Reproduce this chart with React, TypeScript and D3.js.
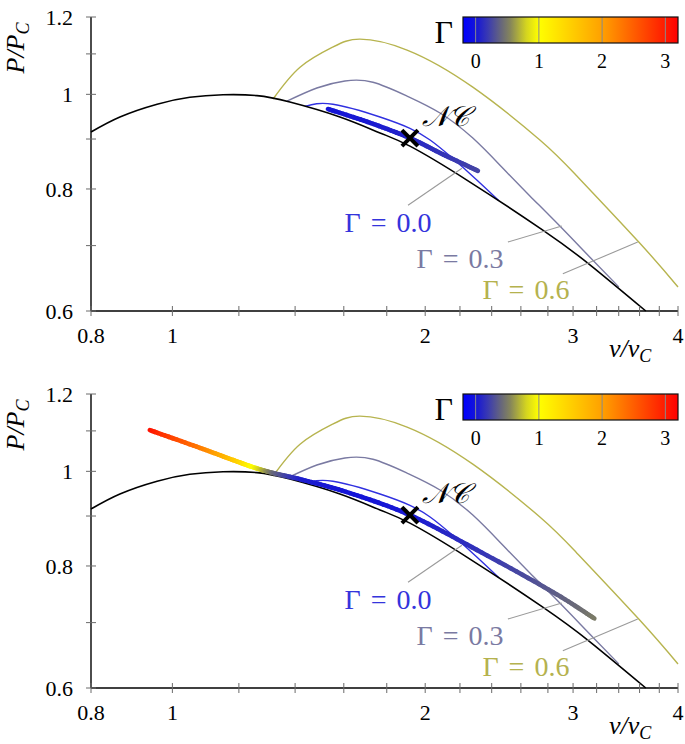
import React from 'react';
import * as d3 from 'd3';

const W = 685;
const H = 744;

// ---------- data ----------
const xTickValues = [0.8, 1, 1.2, 1.4, 1.6, 1.8, 2, 2.2, 2.4, 2.6, 2.8, 3, 3.2, 3.4, 3.6, 3.8, 4];
const xTickLabels = ['0.8', '1', '2', '3', '4'];
const yTickValues = [0.6, 0.7, 0.8, 0.9, 1.0, 1.1, 1.2];
const yTickLabels = ['0.6', '0.8', '1', '1.2'];
const cbarTicks = [0, 1, 2, 3];

// black boundary curve
const boundaryV = [0.8, 0.866, 0.959, 1.049, 1.149, 1.261, 1.38, 1.583, 1.767, 1.918, 2.242, 2.761, 3.142, 3.662];
const boundaryP = [0.915, 0.948, 0.977, 0.993, 0.999, 0.997, 0.982, 0.948, 0.913, 0.885, 0.817, 0.726, 0.669, 0.6];

// Gamma = 0.0 thin curve
const g00V = [1.438, 1.553, 1.767, 1.918, 2.027, 2.153, 2.304, 2.448];
const g00P = [0.972, 0.977, 0.948, 0.923, 0.898, 0.861, 0.817, 0.778];

// Gamma = 0.3 curve
const g03V = [1.369, 1.486, 1.605, 1.733, 1.903, 2.083, 2.279, 2.475, 2.665, 2.893, 3.142, 3.401];
const g03P = [0.984, 1.015, 1.032, 1.029, 0.996, 0.957, 0.902, 0.84, 0.787, 0.733, 0.681, 0.635];

// Gamma = 0.6 curve
const g06V = [1.318, 1.419, 1.553, 1.672, 1.903, 2.279, 2.739, 3.023, 3.592, 4.0];
const g06P = [0.989, 1.066, 1.118, 1.139, 1.11, 1.017, 0.898, 0.827, 0.706, 0.635];

// thick trajectory, top panel
const thick1V = [1.532, 1.72, 1.918, 2.1, 2.311];
const thick1P = [0.966, 0.935, 0.902, 0.868, 0.835];
const thick1G = [0.0, 0.03, 0.08, 0.16, 0.25];

// thick trajectory, bottom panel
const thick2V = [0.94, 1.078, 1.181, 1.247, 1.318, 1.43, 1.627, 1.918, 2.304, 2.84, 3.18];
const thick2P = [1.102, 1.057, 1.027, 1.01, 0.996, 0.98, 0.95, 0.902, 0.831, 0.752, 0.707];
const thick2G = [3.1, 2.3, 1.6, 1.0, 0.42, 0.05, 0.0, 0.02, 0.15, 0.35, 0.5];

// NC point
const ncV = 1.918;
const ncP = 0.902;

// annotations: label, pin start (v,P), pin end (v,P), label centre (v,P)
const annLabels = ['Γ = 0.0', 'Γ = 0.3', 'Γ = 0.6'];
const annColors = ['#3434dc', '#7a7aa2', '#b5b24e'];
const annStartV = [1.908, 2.509, 2.917];
const annStartP = [0.77, 0.706, 0.655];
const annEndV = [2.212, 2.909, 3.582];
const annEndP = [0.84, 0.733, 0.706];
const annLabelV = [1.806, 2.2, 2.636];
const annLabelP = [0.74, 0.68, 0.632];

// colormap
const cmapDomain = [-0.2, 0, 0.2, 0.4, 0.55, 0.8, 1, 2, 3.2];
const cmapColors = ['#0000ff', '#1414d8', '#3b3bb0', '#66667c', '#86865a', '#d4d420', '#ffff00', '#ffa000', '#ff0000'];

// ---------- helpers ----------
const FONT = "'Liberation Serif', 'DejaVu Serif', serif";
const xS = d3.scaleLog().domain([0.8, 4]).range([91, 678]);
const cmap = d3.scaleLinear<string>().domain(cmapDomain).range(cmapColors).interpolate(d3.interpolateRgb).clamp(true);

type Pt = { x: number; y: number; g: number };

function gradientSegments(pts: Pt[], steps = 14) {
  const segs: { x1: number; y1: number; x2: number; y2: number; c: string }[] = [];
  for (let i = 0; i < pts.length - 1; i++) {
    const p0 = pts[Math.max(i - 1, 0)];
    const p1 = pts[i];
    const p2 = pts[i + 1];
    const p3 = pts[Math.min(i + 2, pts.length - 1)];
    let px = p1.x;
    let py = p1.y;
    for (let s = 1; s <= steps; s++) {
      const t = s / steps;
      const t2 = t * t;
      const t3 = t2 * t;
      const cr = (a: number, b: number, c: number, d: number) =>
        0.5 * (2 * b + (-a + c) * t + (2 * a - 5 * b + 4 * c - d) * t2 + (-a + 3 * b - 3 * c + d) * t3);
      const x = cr(p0.x, p1.x, p2.x, p3.x);
      const y = cr(p0.y, p1.y, p2.y, p3.y);
      const tm = (s - 0.5) / steps;
      const g = p1.g + (p2.g - p1.g) * tm;
      segs.push({ x1: px, y1: py, x2: x, y2: y, c: cmap(g) });
      px = x;
      py = y;
    }
  }
  return segs;
}

function Panel({ top, thickV, thickP, thickG, gid }: { top: number; thickV: number[]; thickP: number[]; thickG: number[]; gid: string }) {
  const yS = d3.scaleLog().domain([0.6, 1.2]).range([top + 294, top]);
  const line = d3
    .line<[number, number]>()
    .x((d) => xS(d[0]))
    .y((d) => yS(d[1]))
    .curve(d3.curveNatural);
  const zip = (a: number[], b: number[]) => a.map((v, i) => [v, b[i]] as [number, number]);
  const axisY = yS(0.6);
  const thickPts: Pt[] = thickV.map((v, i) => ({ x: xS(v), y: yS(thickP[i]), g: thickG[i] }));
  const segs = gradientSegments(thickPts);

  const cb = d3.scaleLinear().domain([-0.2, 3.2]).range([463, 678]);
  const cbTop = top;
  const cbH = 26;

  const ncx = xS(ncV);
  const ncy = yS(ncP);

  return (
    <g>
      {/* curves */}
      <path d={line(zip(g06V, g06P)) || ''} fill="none" stroke="#b7b44f" strokeWidth={1.4} />
      <path d={line(zip(g03V, g03P)) || ''} fill="none" stroke="#7a7aa2" strokeWidth={1.4} />
      <path d={line(zip(g00V, g00P)) || ''} fill="none" stroke="#3030e0" strokeWidth={1.4} />
      <path d={line(zip(boundaryV, boundaryP)) || ''} fill="none" stroke="#000" strokeWidth={1.6} />

      {/* pins */}
      {annLabels.map((lab, i) => (
        <g key={lab}>
          <line
            x1={xS(annStartV[i])}
            y1={yS(annStartP[i])}
            x2={xS(annEndV[i])}
            y2={yS(annEndP[i])}
            stroke="#9a9a9a"
            strokeWidth={1.1}
          />
          <text
            x={xS(annLabelV[i])}
            y={yS(annLabelP[i])}
            dy="0.36em"
            textAnchor="middle"
            fontFamily={FONT}
            fontSize={28}
            wordSpacing={3}
            fill={annColors[i]}
          >
            {lab}
          </text>
        </g>
      ))}

      {/* thick coloured trajectory */}
      {segs.map((s, i) => (
        <line key={i} x1={s.x1} y1={s.y1} x2={s.x2} y2={s.y2} stroke={s.c} strokeWidth={4.6} strokeLinecap="round" />
      ))}

      {/* NC marker */}
      <line x1={ncx - 8} y1={ncy - 8} x2={ncx + 8} y2={ncy + 8} stroke="#000" strokeWidth={4} />
      <line x1={ncx - 8} y1={ncy + 8} x2={ncx + 8} y2={ncy - 8} stroke="#000" strokeWidth={4} />
      <text x={ncx + 12} y={ncy - 12} fontFamily={FONT} fontStyle="italic" fontSize={28} fill="#000">
        𝒩𝒞
      </text>

      {/* axes */}
      <line x1={xS(0.8)} y1={axisY} x2={xS(4)} y2={axisY} stroke="#000" strokeWidth={1.4} />
      <line x1={xS(0.8)} y1={yS(0.6)} x2={xS(0.8)} y2={yS(1.2)} stroke="#000" strokeWidth={1.4} />
      {xTickValues.map((v) => (
        <line key={'xt' + v} x1={xS(v)} x2={xS(v)} y1={axisY - 5} y2={axisY + 5} stroke="#6a6a6a" strokeWidth={1} />
      ))}
      {yTickValues.map((v) => (
        <line key={'yt' + v} x1={xS(0.8) - 5} x2={xS(0.8) + 5} y1={yS(v)} y2={yS(v)} stroke="#6a6a6a" strokeWidth={1} />
      ))}
      {xTickLabels.map((l) => (
        <text key={'xl' + l} x={xS(+l)} y={axisY + 32} textAnchor="middle" fontFamily={FONT} fontSize={22} fill="#000">
          {l}
        </text>
      ))}
      {yTickLabels.map((l) => (
        <text key={'yl' + l} x={73} y={yS(+l) + 8} textAnchor="end" fontFamily={FONT} fontSize={22} fill="#000">
          {l}
        </text>
      ))}

      {/* axis labels */}
      <text x={609} y={axisY + 46} fontFamily={FONT} fontStyle="italic" fontSize={26} fill="#000">
        v/v
        <tspan fontSize={18} dy={5}>
          C
        </tspan>
      </text>
      <text
        transform={`translate(24, ${top + 31}) rotate(-90)`}
        textAnchor="middle"
        fontFamily={FONT}
        fontStyle="italic"
        fontSize={26}
        fill="#000"
      >
        P/P
        <tspan fontSize={18} dy={5}>
          C
        </tspan>
      </text>

      {/* colorbar */}
      <rect x={cb(-0.2)} y={cbTop} width={cb(3.2) - cb(-0.2)} height={cbH} fill={`url(#${gid})`} />
      {cbarTicks.map((t) => (
        <g key={'cb' + t}>
          <line x1={cb(t)} x2={cb(t)} y1={cbTop} y2={cbTop + cbH} stroke="#8a8a8a" strokeWidth={1} />
          <text x={cb(t)} y={cbTop + 51} textAnchor="middle" fontFamily={FONT} fontSize={20} fill="#000">
            {t}
          </text>
        </g>
      ))}
      <rect x={cb(-0.2)} y={cbTop} width={cb(3.2) - cb(-0.2)} height={cbH} fill="none" stroke="#111" strokeWidth={1.2} />
      <text x={cb(-0.2) - 10} y={cbTop + 26} textAnchor="end" fontFamily={FONT} fontSize={32} fill="#000">
        Γ
      </text>
    </g>
  );
}

export default function App() {
  const gid = 'cbarGrad';
  return (
    <svg
      width={W}
      height={H}
      viewBox={`0 0 ${W} ${H}`}
      style={{ position: 'absolute', left: 0, top: 0, background: '#fff' }}
    >
      <defs>
        <linearGradient id={gid} x1="0" x2="1" y1="0" y2="0">
          {cmapDomain.map((d, i) => (
            <stop key={i} offset={(d + 0.2) / 3.4} stopColor={cmapColors[i]} />
          ))}
        </linearGradient>
      </defs>
      <rect x={0} y={0} width={W} height={H} fill="#fff" />
      <Panel top={17} thickV={thick1V} thickP={thick1P} thickG={thick1G} gid={gid} />
      <Panel top={394} thickV={thick2V} thickP={thick2P} thickG={thick2G} gid={gid} />
    </svg>
  );
}
